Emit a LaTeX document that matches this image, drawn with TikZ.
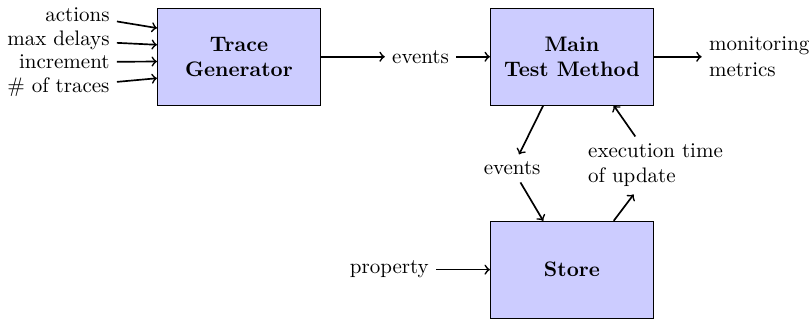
\documentclass[tikz,border=0pt]{standalone}
\usepackage{amsmath}
\usetikzlibrary{positioning}

\begin{document}
\begin{tikzpicture}[block/.style={draw,fill=blue!20,font=\bfseries,align=center,% the three boxes
        minimum width=2.73cm,minimum height=1.62cm},
        flow/.style={->,thick}]
\useasboundingbox (-4.0,0.95) rectangle (9.56,-4.43);
\node[block] (gen) at (0,0) {Trace\\Generator};
\node[block,right=2.83cm of gen] (main) {Main\\Test Method};
\node[block,below=1.93cm of main] (store) {Store};
\node[right=1.07cm of gen] (ev-in) {events};
\node[right=0.8cm of main,align=left] (metrics) {monitoring\\metrics};
\node[left=0.9cm of store] (prop) {property};
\node (ev-down) at ([xshift=-1cm,yshift=-1.87cm]main.center) {events};
\node[align=left] (exec) at ([xshift=1.4cm,yshift=-1.82cm]main.center) {execution time\\of update};
\foreach[count=\xi] \x/\ty/\ey in {actions/0.70/0.48,max delays/0.28/0.2,increment/-0.09/-0.08,\# of traces/-0.51/-0.36}{ %\ty is the text height, \ey the arrow end
\node[anchor=east] (in-\xi) at ([xshift=-0.67cm,yshift=\ty cm]gen.west) {\x};
\draw[flow] (in-\xi) -- ([yshift=\ey cm]gen.west);
}
\draw[flow] (gen) -- (ev-in);
\draw[flow] (ev-in) -- (main);
\draw[flow] (main) -- (metrics);
\draw[flow] (prop) -- (store);
\draw[flow] ([xshift=-0.48cm]main.south) -- (ev-down);
\draw[flow] (ev-down) -- ([xshift=-0.48cm]store.north);
\draw[flow] ([xshift=0.7cm]store.north) -- (exec);
\draw[flow] (exec) -- ([xshift=0.7cm]main.south);
\end{tikzpicture}
\end{document}
